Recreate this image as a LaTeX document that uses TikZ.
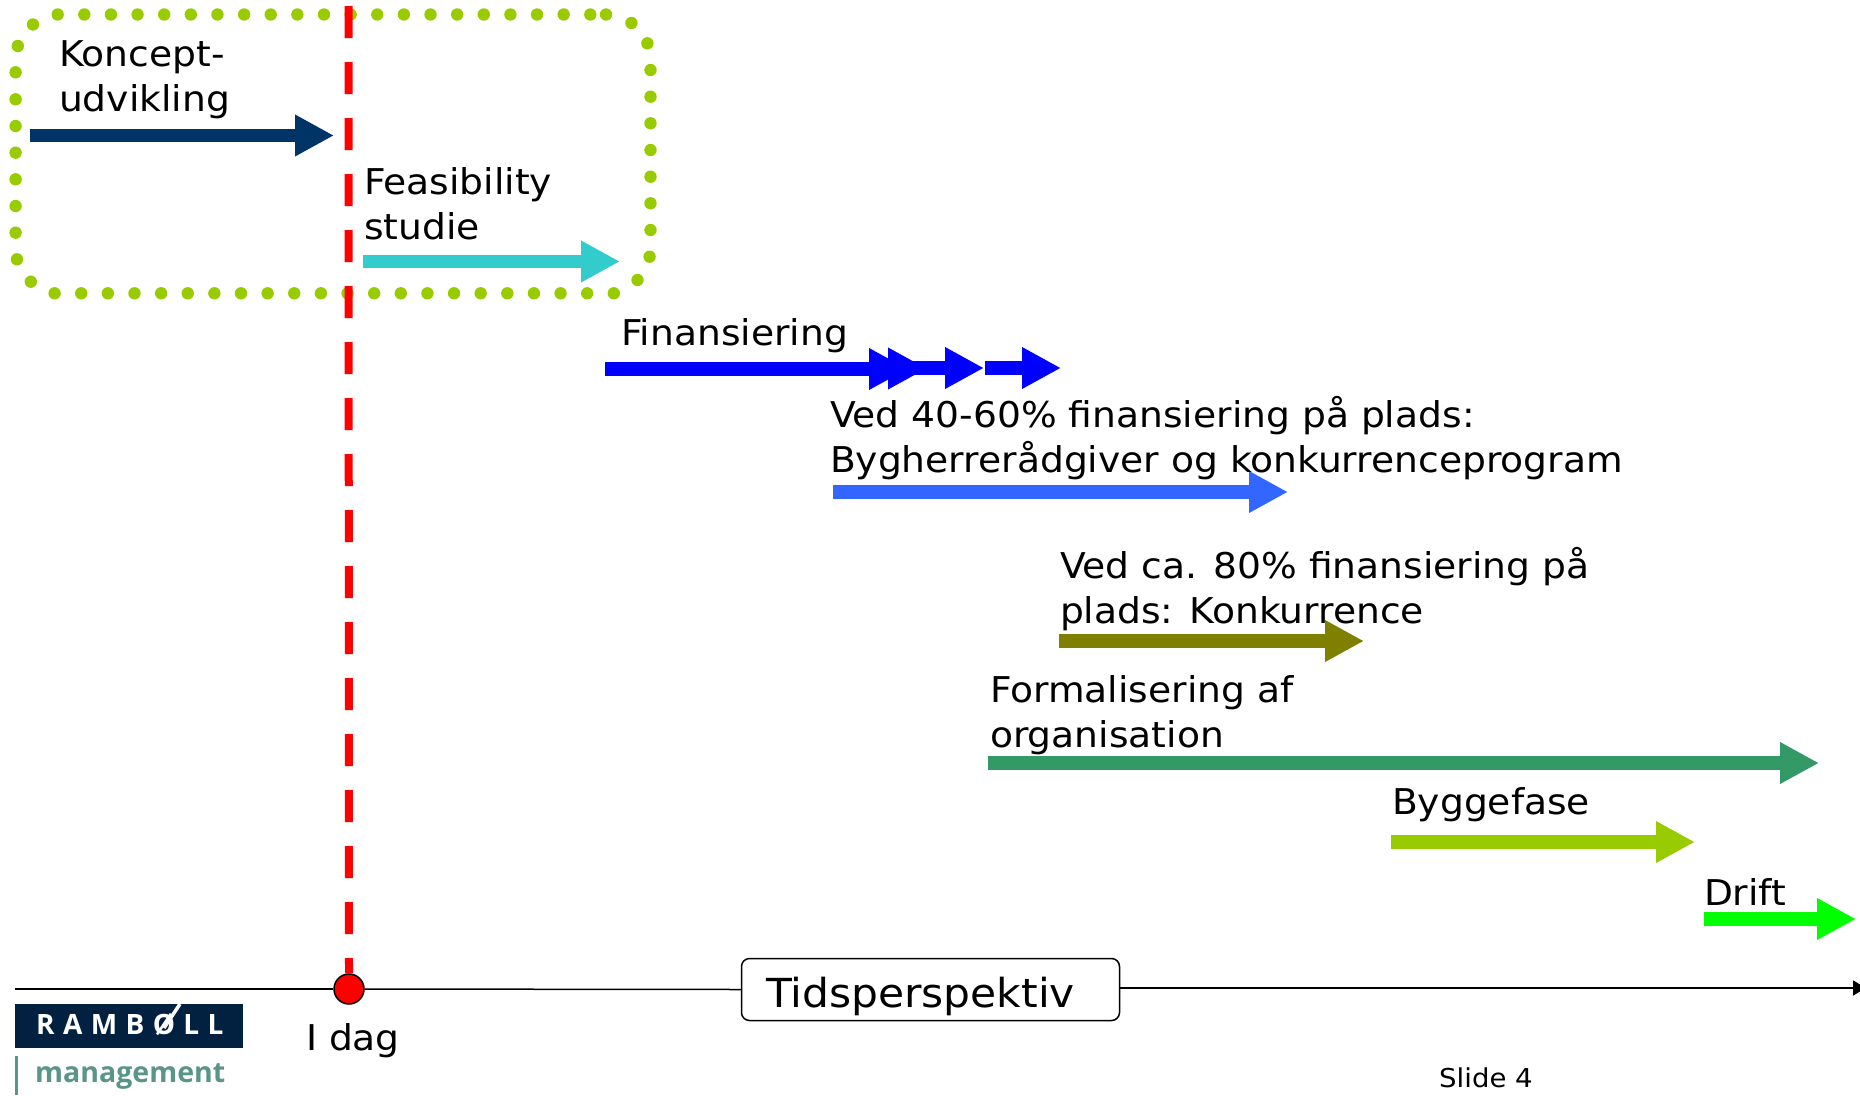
\documentclass[tikz,border=0pt]{standalone}
\usepackage{fontspec}
\setmainfont[FakeStretch=1.06]{DejaVu Sans}
\newfontfamily\logofont[LetterSpace=30]{Open Sans}
\newfontfamily\mgmtfont{Open Sans}
\usetikzlibrary{arrows.meta}
\definecolor{cNavy}{HTML}{003366}
\definecolor{cTeal}{HTML}{33CCCC}
\definecolor{cBlue}{HTML}{0000FF}
\definecolor{cMid}{HTML}{3366FF}
\definecolor{cOlive}{HTML}{808000}
\definecolor{cSea}{HTML}{339966}
\definecolor{cLime}{HTML}{99CC00}
\definecolor{cBright}{HTML}{00FF00}
\definecolor{cLogo}{HTML}{022140}
\definecolor{cMgmt}{HTML}{5B9488}
\tikzset{
  x=1pt,y=-1pt,
  phase/.style={line width=13.5pt,-{Triangle[length=39pt,width=39pt]}},
  lbl/.style={anchor=base west,inner sep=0pt,outer sep=0pt,align=left,font=\fontsize{35.5}{45}\selectfont},
  framedot/.style={fill=cLime},
}
\begin{document}
\begin{tikzpicture}
\useasboundingbox (0,0) rectangle (1860,1095);
% dotted frame
\foreach \k in {0,...,20} \fill[framedot] ({57.7+26.63*\k},14.5) circle[radius=6.2pt];
\foreach \k in {0,...,21} \fill[framedot] ({54.6+26.63*\k},293.3) circle[radius=6.2pt];
\foreach \px/\py in {606/14.5,33/24.5,17.8/46,15.6/72.3,15.6/99.3,15.6/126,15.6/152.7,15.6/179.3,15.6/206,15.6/232.7,17/259.3,30.8/281.7,
  637.5/280,649.6/256.7,650.5/230,650.5/203.3,650.5/176.7,650.5/150,650.5/123.3,650.5/96.7,650.5/70,647.4/43.3,631.4/23}
  \fill[framedot] (\px,\py) circle[radius=6.2pt];
% axis
\node[draw=black,line width=1.5pt,circle,fill=red,minimum size=30pt,inner sep=0pt] (today) at (349,989) {};
\node[draw=black,line width=1.5pt,rounded corners=8pt,minimum width=378pt,minimum height=62pt,inner sep=0pt] (tids) at (930.5,989.5) {};
\node[lbl,font=\fontsize{40}{45}\selectfont] (tidstxt) at (766,1007) {Tidsperspektiv};
\coordinate (axL) at (15,989);
\coordinate (axR) at (1866,988);
\draw[black,line width=1.5pt] (axL) -- (today);
\draw[black,line width=1.5pt] (today) -- (tids.west);
\draw[black,line width=1.5pt,-{Triangle[length=13pt,width=15pt]}] (tids.east|-axR) -- (axR);
% today line
\coordinate (redtop) at (348.5,6);
\draw[red,line width=8pt,dash pattern=on 32pt off 24pt] (redtop) -- (today.north);
\node[lbl,font=\fontsize{35.5}{45}\selectfont] (idag) at (306,1050) {I dag};
% phases
\coordinate (a1) at (30,135.5); \coordinate (a2) at (334,135.5);
\draw[phase,cNavy] (a1) -- (a2);
\node[lbl] (koncept) at (59,111.5) {Koncept-\\udvikling};
\coordinate (b1) at (363,261.5); \coordinate (b2) at (620,261.5);
\draw[phase,cTeal] (b1) -- (b2);
\node[lbl] (feas) at (364,239) {Feasibility\\studie};
\coordinate (c1) at (605,369); \coordinate (c2) at (908,369);
\coordinate (c3) at (870,368.5); \coordinate (c4) at (927,368.5);
\coordinate (c5) at (900,368); \coordinate (c6) at (984,368);
\coordinate (c7) at (985,368); \coordinate (c8) at (1061,368);
\draw[phase,cBlue] (c1) -- (c2);
\draw[phase,cBlue] (c3) -- (c4);
\draw[phase,cBlue] (c5) -- (c6);
\draw[phase,cBlue] (c7) -- (c8);
\node[lbl] (fin) at (621,345) {Finansiering};
\coordinate (d1) at (833,492); \coordinate (d2) at (1288,492);
\draw[phase,cMid] (d1) -- (d2);
\node[lbl] (ved1) at (830,472) {Ved 40-60\% finansiering på plads:\\Bygherrerådgiver og konkurrenceprogram};
\coordinate (e1) at (1059,641); \coordinate (e2) at (1364,641);
\draw[phase,cOlive] (e1) -- (e2);
\node[lbl] (ved2) at (1060,623) {Ved ca. 80\% finansiering på\\plads: Konkurrence};
\coordinate (f1) at (988,763); \coordinate (f2) at (1819,763);
\draw[phase,cSea] (f1) -- (f2);
\node[lbl] (form) at (990,747) {Formalisering af\\organisation};
\coordinate (g1) at (1391,842); \coordinate (g2) at (1695,842);
\draw[phase,cLime] (g1) -- (g2);
\node[lbl] (bygge) at (1392,814) {Byggefase};
\coordinate (h1) at (1704,919); \coordinate (h2) at (1856,919);
\draw[phase,cBright] (h1) -- (h2);
\node[lbl] (drift) at (1704,905) {Drift};
% logo
\node[fill=cLogo,anchor=north west,minimum width=228pt,minimum height=44pt,inner sep=0pt] (logobar) at (15,1004) {};
\node[anchor=base west,inner sep=0pt,text=white,font=\logofont\bfseries\fontsize{28}{28}\selectfont] (ramboll) at (36,1034.5) {RAMBØLL};
\coordinate (sl1) at (164,1028); \coordinate (sl2) at (180,1004);
\draw[white,line width=3.5pt] (sl1) -- (sl2);
\node[anchor=base west,inner sep=0pt,text=cMgmt,font=\mgmtfont\bfseries\fontsize{28.5}{29}\selectfont] (mgmt) at (35,1082) {management};
\coordinate (bar1) at (16.5,1056); \coordinate (bar2) at (16.5,1095);
\draw[cMgmt,line width=3pt] (bar1) -- (bar2);
\node[anchor=base west,inner sep=0pt,font=\fontsize{26}{30}\selectfont] (slide) at (1439,1087) {Slide 4};
\end{tikzpicture}
\end{document}
